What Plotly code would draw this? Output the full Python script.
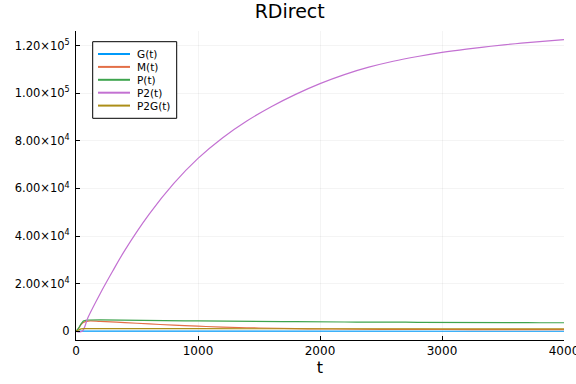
import plotly.graph_objects as go

# ---- data ----
t_p2 = [0, 50, 100, 200, 300, 400, 600, 800, 1000, 1200, 1400, 1600, 1800,
        2000, 2200, 2400, 2600, 2800, 3000, 3200, 3400, 3600, 3800, 4000]
p2_vals = [0, 0, 6000, 16000, 25200, 34000, 49200, 62000, 72600, 81200,
           88300, 94300, 99500, 104000, 107800, 110900, 113400, 115400,
           117100, 118500, 119700, 120740, 121660, 122500]

t_p = [0, 20, 40, 60, 80, 100, 200, 300, 400, 500, 600, 700, 800, 900, 1000,
       1100, 1200, 1300, 1400, 1500, 1600, 1700, 1800, 1900, 2000, 2100, 2200,
       2300, 2400, 2500, 2600, 2700, 2800, 2900, 3000, 3100, 3200, 3300, 3400,
       3500, 3600, 3700, 3800, 3900, 4000]
p_vals = [0, 1200, 3000, 4300, 4650, 4750, 4800, 4700, 4780, 4620, 4550, 4600,
          4480, 4420, 4380, 4300, 4330, 4230, 4180, 4200, 4120, 4060, 4100,
          3980, 3950, 3990, 3900, 3870, 3920, 3840, 3800, 3850, 3760, 3780,
          3720, 3760, 3680, 3700, 3660, 3700, 3620, 3650, 3600, 3640, 3600]

t_m = [0, 20, 40, 60, 100, 200, 400, 600, 800, 1000, 1200, 1500, 1800, 2100,
       2500, 3000, 3500, 4000]
m_vals = [0, 1100, 2700, 3700, 4300, 4150, 3650, 3100, 2600, 2150, 1780, 1380,
          1120, 960, 850, 760, 710, 670]

t_p2g = [0, 20, 40, 60, 100, 1000, 2000, 3000, 4000]
p2g_vals = [0, 600, 1000, 1100, 1120, 1100, 1060, 1020, 1000]

t_g = [0, 20, 40, 100, 1000, 2000, 3000, 4000]
g_vals = [0, 150, 80, 40, 30, 30, 30, 30]

y_tickvals = [0, 20000, 40000, 60000, 80000, 100000, 120000]
y_ticktext = ["0", "2.00×10<sup>4</sup>", "4.00×10<sup>4</sup>",
              "6.00×10<sup>4</sup>", "8.00×10<sup>4</sup>",
              "1.00×10<sup>5</sup>", "1.20×10<sup>5</sup>"]
x_tickvals = [0, 1000, 2000, 3000, 4000]

series = [
    ("G(t)", t_g, g_vals, "#009AFA", "linear"),
    ("M(t)", t_m, m_vals, "#E36F47", "spline"),
    ("P(t)", t_p, p_vals, "#3EA44E", "linear"),
    ("P2(t)", t_p2, p2_vals, "#C371D2", "spline"),
    ("P2G(t)", t_p2g, p2g_vals, "#AC8E18", "linear"),
]

# plot-area geometry in pixels
L, R, T, B = 76, 564, 31, 340
W, H = 576, 384


def px(xp):
    return (xp - L) / (R - L)


def py(yp):
    return (B - yp) / (B - T)


fig = go.Figure()
for name, tx, vy, col, shp in series:
    fig.add_trace(go.Scatter(x=tx, y=vy, mode="lines", name=name,
                             line=dict(color=col, width=1.2, shape=shp,
                                       smoothing=1.0 if shp == "spline" else None),
                             showlegend=False, hoverinfo="skip"))

font_family = "DejaVu Sans"

# legend drawn as box + sample lines + text
shapes = [dict(type="rect", xref="paper", yref="paper",
               x0=px(92.7), x1=px(176.7), y0=py(118.3), y1=py(41.7),
               line=dict(color="black", width=1), fillcolor="white",
               layer="above")]
annotations = []
item_y0, item_dy = 54.0, 12.9
for i, (name, _, _, col, _) in enumerate(series):
    yy = item_y0 + i * item_dy
    shapes.append(dict(type="line", xref="paper", yref="paper",
                       x0=px(98), x1=px(130), y0=py(yy), y1=py(yy),
                       line=dict(color=col, width=2), layer="above"))
    annotations.append(dict(text=name, xref="paper", yref="paper",
                            x=px(134.5), y=py(yy), xanchor="left",
                            yanchor="middle", showarrow=False,
                            font=dict(size=10.5, family=font_family,
                                      color="black")))

fig.update_layout(
    width=W, height=H,
    margin=dict(l=L, r=W - R, t=T, b=H - B),
    paper_bgcolor="white", plot_bgcolor="white",
    font=dict(family=font_family, color="black", size=11),
    title=dict(text="RDirect", x=0.503, xref="container", y=1 - 11.5 / H,
               yref="container", yanchor="middle", xanchor="center",
               font=dict(size=19, family=font_family)),
    showlegend=False,
    shapes=shapes,
    annotations=annotations,
)
fig.update_xaxes(
    range=[0, 4000], tickvals=x_tickvals, ticktext=[str(v) for v in x_tickvals],
    showline=True, linecolor="black", linewidth=1, mirror=False,
    ticks="inside", ticklen=4, tickcolor="black",
    showgrid=True, gridcolor="rgba(0,0,0,0.09)", gridwidth=0.5,
    zeroline=False, automargin=False, ticklabeloverflow="allow",
    title=dict(text="t", font=dict(size=16), standoff=4),
    tickfont=dict(size=12),
)
fig.update_yaxes(
    range=[-3650, 126100], tickvals=y_tickvals, ticktext=y_ticktext,
    showline=True, linecolor="black", linewidth=1, mirror=False,
    ticks="inside", ticklen=4, tickcolor="black",
    showgrid=True, gridcolor="rgba(0,0,0,0.09)", gridwidth=0.5,
    zeroline=False, automargin=False, tickfont=dict(size=11.5),
    ticklabelstandoff=3,
)

# remove the browser's default 8px page margin so the figure fills the window
fig.write_html("out.html",
               config={"displayModeBar": False, "staticPlot": True},
               post_script="document.body.style.margin='0px';"
                           "document.body.style.overflow='hidden';")
